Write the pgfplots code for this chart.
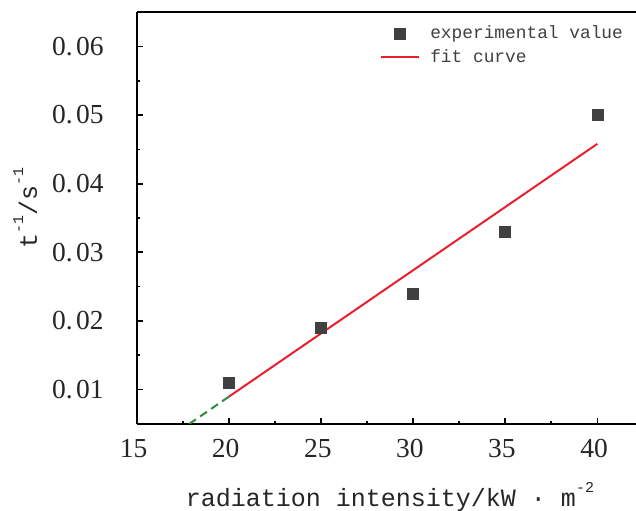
\documentclass[border=0pt]{standalone}
\usepackage{pgfplots}
\pgfplotsset{compat=1.18}
\usepackage{fontspec}
\setmainfont{Liberation Mono}
\newfontfamily\tickfont{Liberation Serif}
\definecolor{markgray}{HTML}{404040}
\definecolor{fitred}{HTML}{E8202E}
\definecolor{dashgreen}{HTML}{2E8B3A}
\newcommand{\mysup}[1]{\raisebox{0.55em}{\fontsize{9}{9}\selectfont #1}}
\pgfplotsset{
  longmark/.style={legend image code/.code={\draw[mark repeat=2,mark phase=2,##1] plot coordinates {(0cm,0cm)(0.4cm,0cm)(0.8cm,0cm)};}},
  longline/.style={legend image code/.code={\draw[##1] (0cm,0cm) -- (0.8cm,0cm);}},
}
\begin{document}
\begin{tikzpicture}
\useasboundingbox (-82.2pt,-52.2pt) rectangle (299.4pt,254.4pt);
\begin{axis}[
  at={(0pt,0pt)}, anchor=south west,
  scale only axis, width=299.4pt, height=247.2pt,
  xmin=15, xmax=42.1, ymin=0.005, ymax=0.065,
  axis x line=box, axis y line*=left,
  scaled y ticks=false,
  xtick={15,20,25,30,35,40}, minor x tick num=1,
  ytick={0.01,0.02,0.03,0.04,0.05,0.06},
  yticklabels={0.\kern2pt01,0.\kern2pt02,0.\kern2pt03,0.\kern2pt04,0.\kern2pt05,0.\kern2pt06},
  minor y tick num=1,
  xtick pos=bottom, ytick pos=left,
  major tick length=3.5pt, minor tick length=2pt,
  axis line style={line width=1.2pt},
  tick style={line width=1pt, black},
  tick align=inside,
  ticklabel style={font=\tickfont\fontsize{16.5}{18}\selectfont, text=black!85},
  xticklabel style={yshift=-5.5pt, xshift=-2pt},
  yticklabel style={xshift=-16.5pt},
  /pgf/number format/assume math mode=true,
  xlabel={radiation intensity/kW · m\mysup{-2}},
  ylabel={t\mysup{-1}/s\mysup{-1}},
  label style={font=\fontsize{15}{18}\selectfont, text=black!85},
  xlabel style={at={(axis description cs:0.507,-0.177)}, anchor=center},
  ylabel style={at={(axis description cs:-0.224,0.524)}, anchor=center},
  legend style={at={(axis description cs:0.487,0.975)}, anchor=north west,
    draw=none, fill=none, inner sep=0pt, row sep=1pt,
    font=\fontsize{10.7}{13}\selectfont, text=black!75,
    /tikz/every odd column/.append style={column sep=4pt}},
  legend cell align=left,
]
\addplot[only marks, mark=square*, mark size=3.3pt, color=markgray, longmark]
  coordinates {(20,0.011) (25,0.019) (30,0.024) (35,0.033) (40,0.050)};
\addlegendentry{experimental value}
\addplot[fitred, line width=1.2pt, longline]
  coordinates {(20,0.0090) (40,0.0458)};
\addlegendentry{fit curve}
\addplot[dashgreen, line width=1.2pt, dash pattern=on 5pt off 3pt, forget plot]
  coordinates {(17.83,0.005) (20,0.0090)};
\end{axis}
\end{tikzpicture}
\end{document}
